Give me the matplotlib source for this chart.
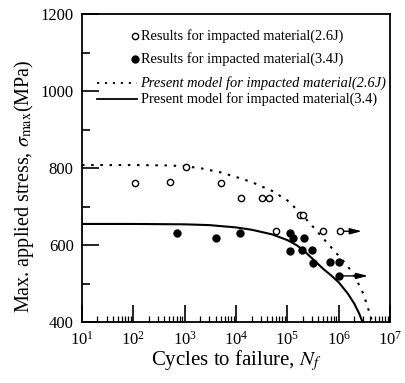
import matplotlib
matplotlib.use("Agg")
import matplotlib.pyplot as plt
from matplotlib.ticker import LogLocator, MultipleLocator, NullFormatter

plt.rcParams['font.family'] = ['Liberation Serif', 'DejaVu Serif']
plt.rcParams['mathtext.fontset'] = 'stix'

# Experimental data
n_26 = [107, 520, 1070, 5000, 12600, 32000, 43000, 178000, 200000, 60000, 500000, 1.07e6]
s_26 = [761, 764, 803, 761, 722, 722, 722, 678, 678, 636, 636, 636]
n_34 = [700, 4000, 12000, 110000, 130000, 112000, 214000, 190000, 300000, 316000, 680000, 1.02e6, 1.0e6]
s_34 = [631, 618, 631, 631, 618, 584, 618, 587, 587, 553, 556, 556, 520]

# Model curves
m26_n = [10, 100, 500, 1e3, 2e3, 5e3, 1e4, 2e4, 5e4, 1e5, 1.8e5, 3e5, 5e5, 1e6, 1.5e6, 2.1e6, 2.9e6, 3.5e6, 4.5e6]
m26_s = [808, 808, 807, 805, 800, 789, 777, 764, 741, 716, 683, 651, 617, 572, 545, 516, 478, 447, 400]
m34_n = [10, 100, 1e3, 3e3, 1e4, 2e4, 5e4, 1e5, 1.5e5, 2e5, 3.16e5, 5e5, 7e5, 1e6, 1.5e6, 2e6, 2.5e6, 2.9e6]
m34_s = [655, 655, 654, 652, 646, 640, 628, 613, 600, 588, 563, 538, 522, 503, 474, 448, 422, 400]

# run-out arrows: (start N, end N, stress)
arrows = [(1.07e6, 2.8e6, 636), (1.0e6, 3.7e6, 520)]

legend_labels = ["Results for impacted material(2.6J)",
                 "Results for impacted material(3.4J)",
                 "Present model for impacted material(2.6J)",
                 "Present model for impacted material(3.4)"]

fig = plt.figure(figsize=(4.06, 3.83), dpi=100)
ax = fig.add_axes([0.202, 0.159, 0.759, 0.804])

ax.plot(m26_n, m26_s, linestyle=(0, (1.2, 3.2)), color='black', lw=1.5)
ax.plot(m34_n, m34_s, linestyle='-', color='black', lw=1.5)
ax.plot(n_26, s_26, 'o', mfc='white', mec='black', ms=4.5, mew=1.0, zorder=5)
ax.plot(n_34, s_34, 'o', mfc='black', mec='black', ms=5, zorder=5)

for n0, n1, s in arrows:
    ax.annotate('', xy=(n1, s), xytext=(n0 * 1.15, s),
                arrowprops=dict(arrowstyle='-|>,head_length=0.7,head_width=0.18',
                                color='black', lw=1.0, shrinkA=0, shrinkB=0))

ax.set_xscale('log')
ax.set_xlim(10, 1e7)
ax.set_ylim(400, 1200)

ax.xaxis.set_major_locator(LogLocator(base=10, numticks=10))
ax.xaxis.set_minor_locator(LogLocator(base=10, subs=range(2, 10), numticks=20))
ax.xaxis.set_minor_formatter(NullFormatter())
ax.yaxis.set_major_locator(MultipleLocator(200))
ax.yaxis.set_minor_locator(MultipleLocator(100))

ax.tick_params(which='major', direction='in', length=12, width=1.2, labelsize=12,
               top=False, right=False, pad=6)
ax.tick_params(axis='x', which='minor', direction='in', length=4, width=0.9, top=False)
ax.tick_params(axis='y', which='minor', direction='in', length=6, width=1.2, right=False)
for sp in ax.spines.values():
    sp.set_linewidth(1.3)

ax.set_xlabel('Cycles to failure, $N_f$', fontsize=15, labelpad=0)
ax.set_ylabel(r'Max. applied stress, $\sigma_{\max}$(MPa)', fontsize=14.5)
ax.yaxis.set_label_coords(-0.15, 0.44)

# manual legend
rows_y = [0.928, 0.853, 0.778, 0.726]
tx = 0.19
ax.plot([0.172], [rows_y[0]], 'o', transform=ax.transAxes, mfc='white', mec='black', ms=4.5, mew=1.0)
ax.plot([0.172], [rows_y[1]], 'o', transform=ax.transAxes, mfc='black', mec='black', ms=5)
ax.plot([0.05, 0.178], [rows_y[2]] * 2, transform=ax.transAxes, color='black',
        linestyle=(0, (1.2, 3.2)), lw=1.3)
ax.plot([0.05, 0.178], [rows_y[3]] * 2, transform=ax.transAxes, color='black', lw=1.3)
for i, lab in enumerate(legend_labels):
    ax.text(tx, rows_y[i], lab, transform=ax.transAxes, fontsize=10.4, va='center',
            ha='left', style='italic' if i == 2 else 'normal')

fig.savefig('out.png', dpi=100)
